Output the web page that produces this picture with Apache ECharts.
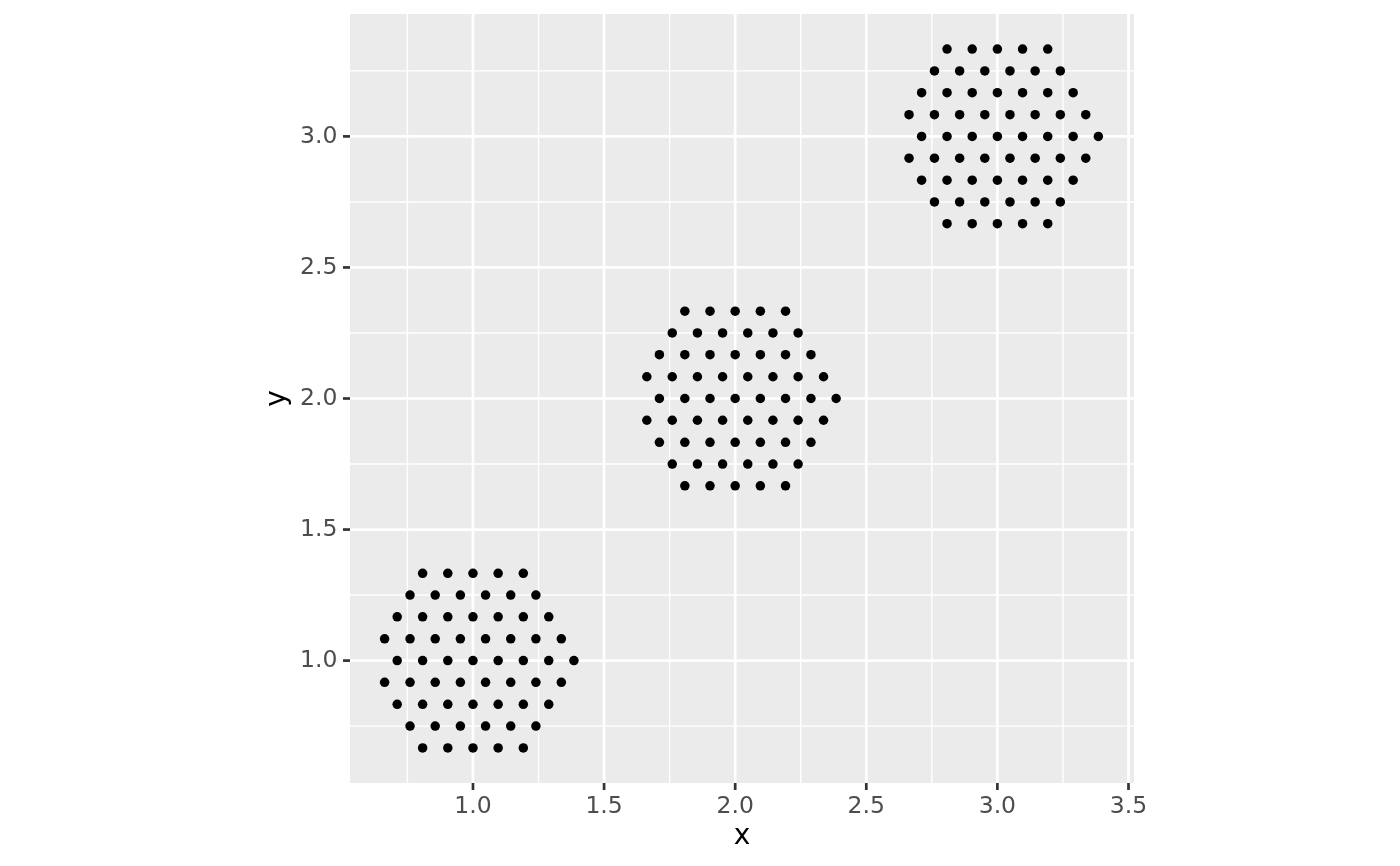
<!DOCTYPE html>
<html><head><meta charset="utf-8">
<script src="https://cdn.jsdelivr.net/npm/echarts@6/dist/echarts.min.js"></script>
<style>html,body{margin:0;padding:0;background:#fff}#c{width:1400px;height:866px}</style>
</head><body><div id="c"></div>
<script>
// ---- axes ----
const xTickValues = [1.0, 1.5, 2.0, 2.5, 3.0, 3.5];
const xTickLabels = ['1.0', '1.5', '2.0', '2.5', '3.0', '3.5'];
const yTickValues = [1.0, 1.5, 2.0, 2.5, 3.0];
const yTickLabels = ['1.0', '1.5', '2.0', '2.5', '3.0'];
const xMinorValues = [0.75, 1.25, 1.75, 2.25, 2.75, 3.25];
const yMinorValues = [0.75, 1.25, 1.75, 2.25, 2.75, 3.25];
const xLimits = [0.531, 3.521];
const yLimits = [0.533, 3.467];

// ---- hexagon 1 (rows top to bottom) ----
const hex1RowY = [1.333, 1.250, 1.167, 1.083, 1.000, 0.917, 0.833, 0.750, 0.667];
const hex1RowX = [
  [0.808, 0.904, 1.000, 1.096, 1.192],
  [0.760, 0.856, 0.952, 1.048, 1.144, 1.240],
  [0.711, 0.808, 0.904, 1.000, 1.096, 1.192, 1.289],
  [0.663, 0.760, 0.856, 0.952, 1.048, 1.144, 1.240, 1.337],
  [0.711, 0.808, 0.904, 1.000, 1.096, 1.192, 1.289, 1.385],
  [0.663, 0.760, 0.856, 0.952, 1.048, 1.144, 1.240, 1.337],
  [0.711, 0.808, 0.904, 1.000, 1.096, 1.192, 1.289],
  [0.760, 0.856, 0.952, 1.048, 1.144, 1.240],
  [0.808, 0.904, 1.000, 1.096, 1.192]
];
// ---- hexagon 2 ----
const hex2RowY = [2.333, 2.250, 2.167, 2.083, 2.000, 1.917, 1.833, 1.750, 1.667];
const hex2RowX = [
  [1.808, 1.904, 2.000, 2.096, 2.192],
  [1.760, 1.856, 1.952, 2.048, 2.144, 2.240],
  [1.711, 1.808, 1.904, 2.000, 2.096, 2.192, 2.289],
  [1.663, 1.760, 1.856, 1.952, 2.048, 2.144, 2.240, 2.337],
  [1.711, 1.808, 1.904, 2.000, 2.096, 2.192, 2.289, 2.385],
  [1.663, 1.760, 1.856, 1.952, 2.048, 2.144, 2.240, 2.337],
  [1.711, 1.808, 1.904, 2.000, 2.096, 2.192, 2.289],
  [1.760, 1.856, 1.952, 2.048, 2.144, 2.240],
  [1.808, 1.904, 2.000, 2.096, 2.192]
];
// ---- hexagon 3 ----
const hex3RowY = [3.333, 3.250, 3.167, 3.083, 3.000, 2.917, 2.833, 2.750, 2.667];
const hex3RowX = [
  [2.808, 2.904, 3.000, 3.096, 3.192],
  [2.760, 2.856, 2.952, 3.048, 3.144, 3.240],
  [2.711, 2.808, 2.904, 3.000, 3.096, 3.192, 3.289],
  [2.663, 2.760, 2.856, 2.952, 3.048, 3.144, 3.240, 3.337],
  [2.711, 2.808, 2.904, 3.000, 3.096, 3.192, 3.289, 3.385],
  [2.663, 2.760, 2.856, 2.952, 3.048, 3.144, 3.240, 3.337],
  [2.711, 2.808, 2.904, 3.000, 3.096, 3.192, 3.289],
  [2.760, 2.856, 2.952, 3.048, 3.144, 3.240],
  [2.808, 2.904, 3.000, 3.096, 3.192]
];

function rowsToPoints(rowY, rowX) {
  const pts = [];
  rowX.forEach((xs, i) => xs.forEach(x => pts.push([x, rowY[i]])));
  return pts;
}
const points = []
  .concat(rowsToPoints(hex1RowY, hex1RowX))
  .concat(rowsToPoints(hex2RowY, hex2RowX))
  .concat(rowsToPoints(hex3RowY, hex3RowX));

const FONT = '"DejaVu Sans", "Liberation Sans", sans-serif';
const MAJOR_W = 2.7, MINOR_W = 1.4, TICK_LEN = 7, TICK_GAP = 5.6;
const TICK_FONT = 23.5;

function vGrid(width) {
  return function (params, api) {
    const cs = params.coordSys;
    const x = api.coord([api.value(0), api.value(1)])[0];
    return { type: 'line', shape: { x1: x, y1: cs.y, x2: x, y2: cs.y + cs.height },
      style: { stroke: '#FFFFFF', lineWidth: width } };
  };
}
function hGrid(width) {
  return function (params, api) {
    const cs = params.coordSys;
    const y = api.coord([api.value(0), api.value(1)])[1];
    return { type: 'line', shape: { x1: cs.x, y1: y, x2: cs.x + cs.width, y2: y },
      style: { stroke: '#FFFFFF', lineWidth: width } };
  };
}
function xTickRender(params, api) {
  const cs = params.coordSys;
  const x = api.coord([api.value(0), api.value(1)])[0];
  const b = cs.y + cs.height;
  return { type: 'group', children: [
    { type: 'line', shape: { x1: x, y1: b, x2: x, y2: b + TICK_LEN },
      style: { stroke: '#333333', lineWidth: MAJOR_W } },
    { type: 'text', x: x, y: b + TICK_LEN + TICK_GAP - 1,
      style: { text: xTickLabels[params.dataIndex], fill: '#4D4D4D', fontSize: TICK_FONT,
        fontFamily: FONT, align: 'center', verticalAlign: 'top' } }
  ] };
}
function yTickRender(params, api) {
  const cs = params.coordSys;
  const y = api.coord([api.value(0), api.value(1)])[1];
  const l = cs.x;
  return { type: 'group', children: [
    { type: 'line', shape: { x1: l - TICK_LEN, y1: y, x2: l, y2: y },
      style: { stroke: '#333333', lineWidth: MAJOR_W } },
    { type: 'text', x: l - TICK_LEN - TICK_GAP, y: y,
      style: { text: yTickLabels[params.dataIndex], fill: '#4D4D4D', fontSize: TICK_FONT,
        fontFamily: FONT, align: 'right', verticalAlign: 'middle' } }
  ] };
}

const chart = echarts.init(document.getElementById('c'), null, { renderer: 'canvas' });
chart.setOption({
  animation: false,
  backgroundColor: '#FFFFFF',
  grid: { left: 350, top: 14, width: 784, height: 769, show: true,
    backgroundColor: '#EBEBEB', borderWidth: 0 },
  xAxis: {
    type: 'value', min: xLimits[0], max: xLimits[1],
    axisLine: { show: false }, axisTick: { show: false }, axisLabel: { show: false },
    splitLine: { show: false },
    name: 'x', nameLocation: 'middle', nameGap: 40,
    nameTextStyle: { fontSize: 28, color: '#000000', fontFamily: FONT }
  },
  yAxis: {
    type: 'value', min: yLimits[0], max: yLimits[1],
    axisLine: { show: false }, axisTick: { show: false }, axisLabel: { show: false },
    splitLine: { show: false },
    name: 'y', nameLocation: 'middle', nameGap: 58,
    nameTextStyle: { fontSize: 28, color: '#000000', fontFamily: FONT }
  },
  series: [
    { type: 'custom', silent: true, clip: false, z: 1, renderItem: vGrid(MINOR_W),
      data: xMinorValues.map(v => [v, yLimits[0]]) },
    { type: 'custom', silent: true, clip: false, z: 1, renderItem: hGrid(MINOR_W),
      data: yMinorValues.map(v => [xLimits[0], v]) },
    { type: 'custom', silent: true, clip: false, z: 1, renderItem: vGrid(MAJOR_W),
      data: xTickValues.map(v => [v, yLimits[0]]) },
    { type: 'custom', silent: true, clip: false, z: 1, renderItem: hGrid(MAJOR_W),
      data: yTickValues.map(v => [xLimits[0], v]) },
    { type: 'custom', silent: true, clip: false, z: 2, renderItem: xTickRender,
      data: xTickValues.map(v => [v, yLimits[0]]) },
    { type: 'custom', silent: true, clip: false, z: 2, renderItem: yTickRender,
      data: yTickValues.map(v => [xLimits[0], v]) },
    { type: 'scatter', silent: true, z: 3, symbol: 'circle', symbolSize: 9.5,
      itemStyle: { color: '#000000', opacity: 1 }, data: points }
  ]
});
</script></body></html>
